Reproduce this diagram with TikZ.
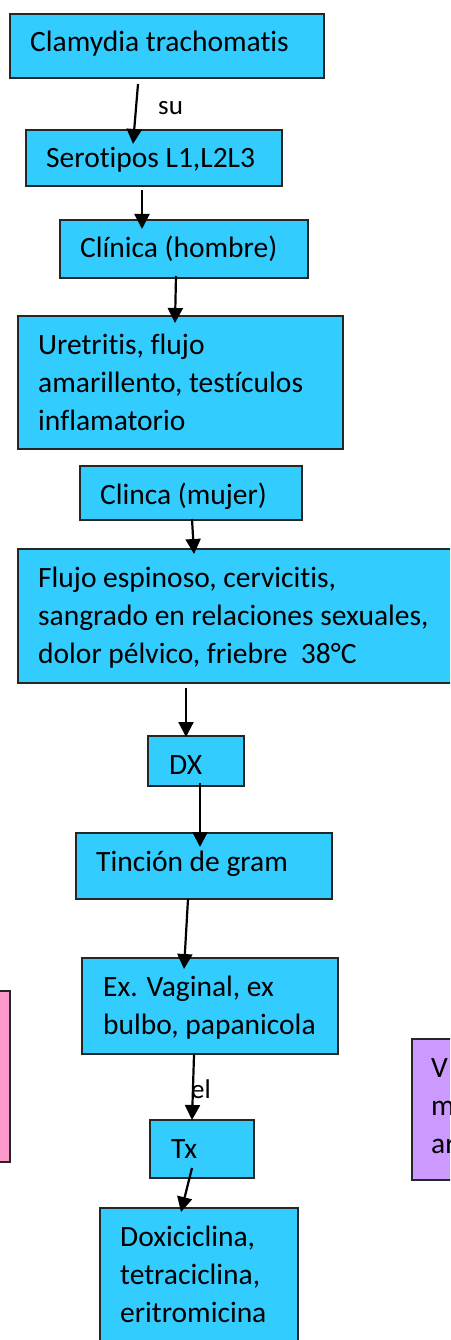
\documentclass[tikz,border=0pt]{standalone}
\usepackage{fontspec}
\setmainfont{Carlito}[RawFeature={-liga}]
\usetikzlibrary{arrows.meta,calc}
\definecolor{boxblue}{HTML}{33CCFF}
\definecolor{boxpink}{HTML}{FF99CC}
\definecolor{boxviolet}{HTML}{CC99FF}
\tikzset{
  bx/.style={draw=black!85, line width=1.1pt, fill=boxblue, anchor=north west, inner sep=0pt, outer sep=0pt},
  tx/.style={anchor=base west, inner sep=0pt, font=\fontsize{29.5}{38}\selectfont},
  lbl/.style={anchor=base west, inner sep=0pt, font=\fontsize{27}{34}\selectfont},
  arr/.style={line width=2.2pt, -{Triangle[width=15pt,length=15pt]}},
}
\begin{document}
\begin{tikzpicture}[x=1pt,y=-1pt]
\useasboundingbox (0,0) rectangle (450,1340);
\clip (0,0) rectangle (450,1340);
\fill[white] (0,0) rectangle (450,1340);
% boxes
\node[bx, minimum width=314pt, minimum height=64pt] (A) at (10,14) {};
\node[bx, minimum width=256pt, minimum height=56pt] (B) at (26,130) {};
\node[bx, minimum width=248pt, minimum height=58pt] (C) at (60,220) {};
\node[bx, minimum width=325pt, minimum height=133pt] (D) at (18,316) {};
\node[bx, minimum width=222pt, minimum height=54pt] (E) at (80,466) {};
\node[bx, minimum width=460pt, minimum height=134pt] (F) at (18,549) {};
\node[bx, minimum width=96pt, minimum height=50pt] (G) at (148,736) {};
\node[bx, minimum width=256pt, minimum height=66pt] (H) at (76,833) {};
\node[bx, minimum width=256pt, minimum height=96pt] (I) at (82,958) {};
\node[bx, minimum width=104pt, minimum height=58pt] (J) at (150,1120) {};
\node[bx, minimum width=198pt, minimum height=160pt] (K) at (100,1208) {};
\node[bx, fill=boxpink, minimum width=30pt, minimum height=171pt] (P) at (-20,991) {};
\node[bx, fill=boxviolet, minimum width=60pt, minimum height=141pt] (Q) at (412,1039) {};
% texts
\node[tx] (tA) at (30,52) {Clamydia trachomatis};
\node[tx] (tB) at (46,168) {Serotipos L1,L2L3};
\node[tx] (tC) at (80,258) {Clínica (hombre)};
\node[tx] (tD1) at (38,354) {Uretritis, flujo};
\node[tx] (tD2) at (38,392) {amarillento, testículos};
\node[tx] (tD3) at (38,430) {inflamatorio};
\node[tx] (tE) at (100,504) {Clinca (mujer)};
\node[tx] (tF1) at (38,587) {Flujo espinoso, cervicitis,};
\node[tx] (tF2) at (38,625) {sangrado en relaciones sexuales,};
\node[tx] (tF3) at (38,663) {dolor pélvico, friebre\ \ 38°C};
\node[tx] (tG) at (169,774) {DX};
\node[tx] (tH) at (96,871) {Tinción de gram};
\node[tx] (tI1) at (103,996) {Ex. Vaginal, ex};
\node[tx] (tI2) at (103,1034) {bulbo, papanicola};
\node[tx] (tJ) at (171,1158) {Tx};
\node[tx] (tK1) at (120,1246) {Doxiciclina,};
\node[tx] (tK2) at (120,1284) {tetraciclina,};
\node[tx] (tK3) at (120,1322) {eritromicina};
\node[tx] (tQ1) at (431,1077) {V};
\node[tx] (tQ2) at (431,1115) {m};
\node[tx] (tQ3) at (431,1153) {ar};
% arrows
\draw[arr] ($(A.south west)+(128,6)$) -- ($(B.north west)+(107,14)$);
\draw[arr] ($(B.south west)+(116,4)$) -- ($(C.north west)+(82,9)$);
\draw[arr] ($(C.south west)+(116,-2)$) -- ($(D.north west)+(157,7)$);
\draw[arr] ($(E.south west)+(112,-1)$) -- ($(F.north west)+(176,5)$);
\draw[arr] ($(F.south west)+(168,5)$) -- ($(G.north west)+(38,1)$);
\draw[arr] ($(G.south west)+(52,-3)$) -- ($(H.north west)+(124,14)$);
\draw[arr] ($(H.south west)+(112,0)$) -- ($(I.north west)+(102,11)$);
\draw[arr] ($(I.south west)+(112,1)$) -- ($(J.north west)+(42,0)$);
\draw[arr] ($(J.south west)+(42,-10)$) -- ($(K.north west)+(81,4)$);
% connector labels
\node[lbl] (su) at (158,115) {su};
\node[lbl] (el) at (191,1098) {el};
\end{tikzpicture}
\end{document}
